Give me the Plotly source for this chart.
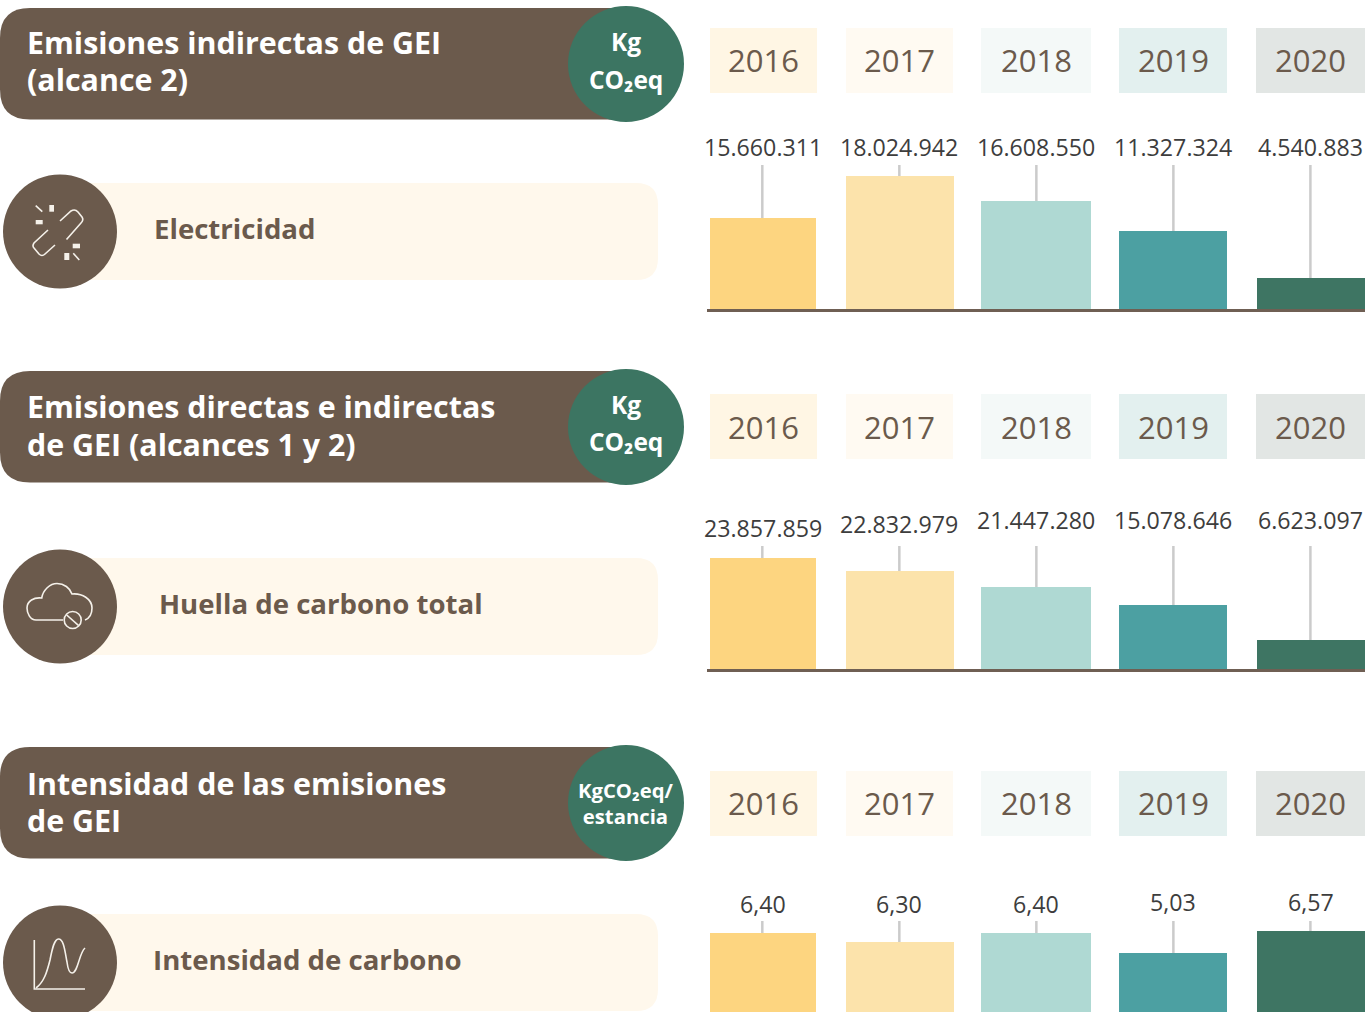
import plotly.graph_objects as go
from plotly.subplots import make_subplots

W, H = 1367, 1012
FONT = "Open Sans"
BROWN = "#6b5a4c"
GREEN = "#3c7562"
CREAM = "#fff8ec"

years = ["2016", "2017", "2018", "2019", "2020"]
bar_colors = ["#fdd580", "#fce3ab", "#afd9d3", "#4ca0a2", "#3e7563"]
box_colors = ["#fff6e4", "#fffaf2", "#f4f9f8", "#e3f0ef", "#e2e6e4"]

# Printed values
electricidad_labels = ["15.660.311", "18.024.942", "16.608.550", "11.327.324", "4.540.883"]
huella_labels = ["23.857.859", "22.832.979", "21.447.280", "15.078.646", "6.623.097"]
intensidad_labels = ["6,40", "6,30", "6,40", "5,03", "6,57"]

# Bar heights as drawn in the picture (the bars are not to scale with the printed values)
electricidad_heights = [91.5, 133.5, 108.5, 78.5, 31.5]
huella_heights = [111.5, 98.5, 82.5, 64.5, 29.5]
intensidad_heights = [79, 70, 79, 59, 81]

headers = [("Emisiones indirectas de GEI", "(alcance 2)"),
           ("Emisiones directas e indirectas", "de GEI (alcances 1 y 2)"),
           ("Intensidad de las emisiones", "de GEI")]
pill_titles = ["Electricidad", "Huella de carbono total", "Intensidad de carbono"]


def X(p):
    return p / W


def Y(p):
    return 1 - p / H


def pth(cmds):
    out = []
    for c in cmds:
        if isinstance(c, str):
            out.append(c)
        else:
            out.append(f"{X(c[0]):.5f},{Y(c[1]):.5f}")
    return " ".join(out)


def parse(d):
    """SVG path in pixel coordinates -> paper coordinates."""
    toks = d.replace(",", " ").split()
    res, i = [], 0
    while i < len(toks):
        if toks[i].isalpha():
            res.append(toks[i]); i += 1
        else:
            res.append((float(toks[i]), float(toks[i + 1]))); i += 2
    return pth(res)


shapes, anns = [], []


def rect(x0, y0, x1, y1, color):
    shapes.append(dict(type="rect", xref="paper", yref="paper", x0=X(x0), x1=X(x1), y0=Y(y0), y1=Y(y1),
                       fillcolor=color, line_width=0, layer="below"))


def round_rect(x0, y0, x1, y1, r, color):
    d = (f"M {x0+r} {y0} L {x1-r} {y0} Q {x1} {y0} {x1} {y0+r} L {x1} {y1-r} Q {x1} {y1} {x1-r} {y1} "
         f"L {x0+r} {y1} Q {x0} {y1} {x0} {y1-r} L {x0} {y0+r} Q {x0} {y0} {x0+r} {y0} Z")
    shapes.append(dict(type="path", xref="paper", yref="paper", path=parse(d), fillcolor=color,
                       line_width=0, layer="below"))


def circle(cx, cy, r, color, line=None, lw=0, layer="below"):
    shapes.append(dict(type="circle", xref="paper", yref="paper", x0=X(cx - r), x1=X(cx + r),
                       y0=Y(cy + r), y1=Y(cy - r), fillcolor=color, layer=layer,
                       line=dict(color=line or color, width=lw)))


def stroke(d, color="#f5f1ea", w=1.6):
    shapes.append(dict(type="path", xref="paper", yref="paper", path=parse(d), line=dict(color=color, width=w),
                       fillcolor="rgba(0,0,0,0)", layer="above"))


def text(x, y, s, size, color, anchor="center", weight=400):
    anns.append(dict(xref="paper", yref="paper", x=X(x), y=Y(y), text=s, showarrow=False, xanchor=anchor,
                     yanchor="middle", align="left" if anchor == "left" else "center",
                     font=dict(family=FONT, size=size, color=color, weight=weight)))


# Header bands
for top, (l1, l2), y1, y2 in zip([8, 371, 747], headers, [34.5, 35.5, 36.5], [72, 73.5, 73]):
    round_rect(0, top, 640, top + 111.5, 30, BROWN)
    text(25, top + y1, l1, 30.4, "#ffffff", "left", 700)
    text(25, top + y2, l2, 30.4, "#ffffff", "left", 700)
for cy in [64, 427, 803]:
    circle(626, cy, 58, GREEN)
for cy in [64, 427]:
    text(625.5, cy - 22.5, "Kg", 24.5, "#ffffff", weight=700)
    text(625.5, cy + 15, "CO₂eq", 24.5, "#ffffff", weight=700)
text(625.5, 802.5, "KgCO₂eq/<br>estancia", 20.3, "#ffffff", weight=700)

# Year boxes
box_x = [(710, 817), (846, 953), (981, 1091), (1119, 1227), (1256, 1365)]
for top, dy in zip([28, 394, 771], [32, 33, 32]):
    for (a, b), c, y in zip(box_x, box_colors, years):
        rect(a, top, b, top + 65, c)
        text((a + b) / 2, top + dy, y, 31, BROWN)

# Pills and icon circles
for top, cy, s, tx in zip([183, 558, 914], [231.5, 606.5, 962.5], pill_titles, [151.5, 156.5, 150.5]):
    round_rect(60, top, 658, top + 97, 22, CREAM)
    circle(60, cy, 57, BROWN)
    text(tx, top + 45, s, 27.6, BROWN, "left", 700)

# Icon: broken link
stroke("M 60 221 L 71 211 Q 75 208.5 78 212 L 82 217 Q 84 220 81 223 L 66.5 239.5")
stroke("M 48 230 L 34 243 Q 32 246 34 248 L 39 254 Q 42 257 45 254 L 55 245")
stroke("M 35.7 205.7 L 42.3 211.7")
stroke("M 73.3 253.3 L 79.3 260")
for a, b, c, d in [(35.7, 220, 42.7, 224.3), (49.3, 205, 54, 211.7), (72.7, 243.7, 80, 248.3), (64.3, 253, 69.3, 260)]:
    shapes.append(dict(type="rect", xref="paper", yref="paper", x0=X(a), x1=X(c), y0=Y(b), y1=Y(d),
                       fillcolor="#f5f1ea", line_width=0, layer="above"))
# Icon: cloud
stroke("M 63 620 L 36 620 C 30 620 27 613 27 608 C 27 601 34 597 41.7 598 C 43 590 50 583.5 57 583.5 "
       "C 64 583.5 70 588 72 594 C 82 593 92 599 92 608 C 92 613 90 618 85 620")
circle(72.7, 620, 8.5, BROWN, "#f5f1ea", 1.6, "above")
stroke("M 66.7 615 L 78.7 625.7")
# Icon: curve
stroke("M 34.3 940 L 34.3 989 L 85 989")
stroke("M 36 988 C 44 982 47 972 50 960 C 52 950 54 939 58.5 939 C 64 939 65 952 67 962 "
       "C 68 970 70 973 72 973 C 78 973 79 953 85 948")

# Bars
fig = make_subplots(rows=3, cols=1, vertical_spacing=0)
panels = [
    (electricidad_heights, electricidad_labels, 165, 309.5, 310.6, [147] * 5),
    (huella_heights, huella_labels, 546, 669.5, 670.6, [528, 524, 520, 520, 520]),
    (intensidad_heights, intensidad_labels, 921, 1012, None, [904, 904, 904, 902, 902]),
]
bar_widths = [0.774, 0.788, 0.803, 0.788, 0.788]
bar_offsets = [-0.381, -0.389, -0.403, -0.396, -0.389]
for i, (hts, labels, top, base, line_y, label_y) in enumerate(panels, start=1):
    span = base - top
    lx, ly = [], []
    for y, h in zip(years, hts):
        lx += [y, y, None]
        ly += [h, span, None]
    fig.add_trace(go.Bar(x=years, y=hts, width=bar_widths, offset=bar_offsets,
                         marker=dict(color=bar_colors, line_width=0),
                         hovertext=labels, hoverinfo="x+text", showlegend=False), row=i, col=1)
    fig.add_trace(go.Scatter(x=lx, y=ly, mode="lines", line=dict(color="#cbcbcb", width=2.5), hoverinfo="skip",
                             showlegend=False), row=i, col=1)
    suffix = "" if i == 1 else str(i)
    fig.layout["xaxis" + suffix].update(domain=[693.8 / W, 1], range=[-0.5, 4.413], type="category", visible=False,
                                        categoryorder="array", categoryarray=years)
    fig.layout["yaxis" + suffix].update(domain=[Y(base), Y(top)], range=[0, span], visible=False)
    for cx, s, yy in zip([762.5, 899, 1035.5, 1173, 1310.5], labels, label_y):
        text(cx, yy, s, 23.2, "#3d3d3d")
    if line_y:
        shapes.append(dict(type="line", xref="paper", yref="paper", x0=X(707), x1=X(1365), y0=Y(line_y), y1=Y(line_y),
                           line=dict(color="#6f5f53", width=3), layer="above"))

fig.update_layout(width=W, height=H, margin=dict(l=0, r=0, t=0, b=0), paper_bgcolor="#ffffff",
                  plot_bgcolor="rgba(0,0,0,0)", shapes=shapes, annotations=anns, showlegend=False,
                  bargap=0, font=dict(family=FONT))
fig.write_html("out.html", config=dict(displayModeBar=False),
               post_script="document.body.style.margin='0';document.body.style.overflow='hidden';window.dispatchEvent(new Event('resize'));")
